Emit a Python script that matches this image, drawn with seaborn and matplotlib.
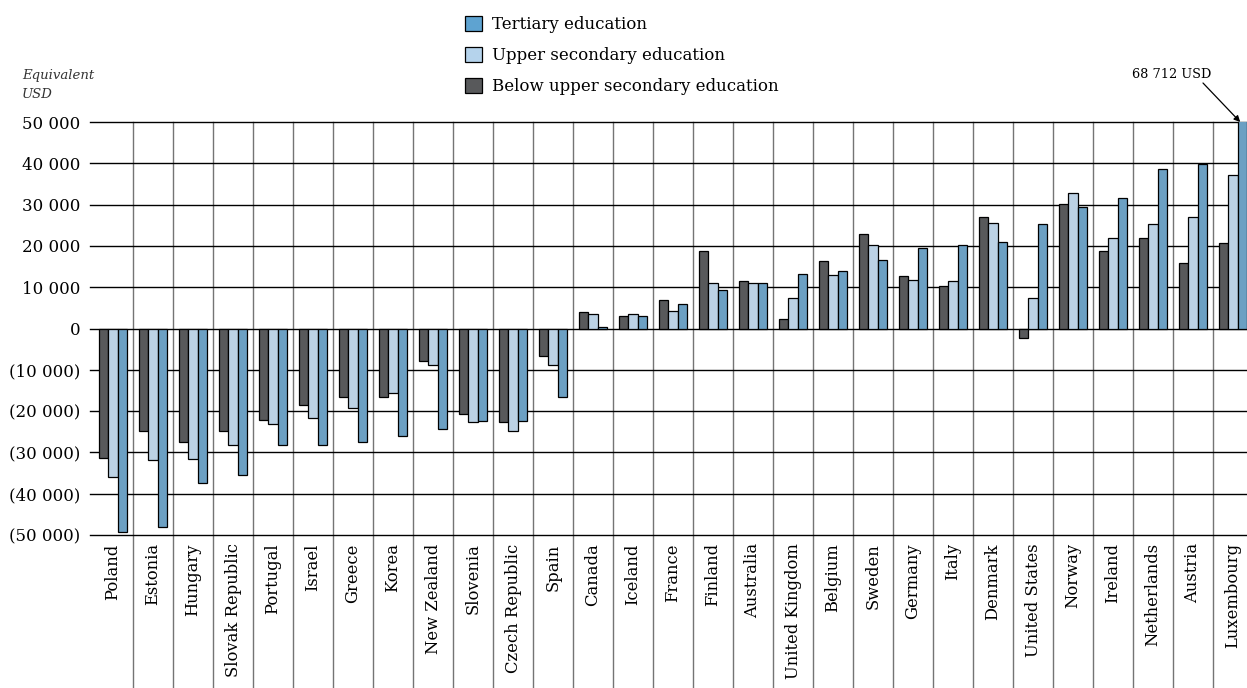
import numpy as np
import pandas as pd
import matplotlib
matplotlib.use("Agg")
import matplotlib.pyplot as plt
from matplotlib.patches import Patch
import seaborn as sns

#-----------------------------------------------------------------------------#
'''data'''
countries = ["Poland", "Estonia", "Hungary", "Slovak Republic", "Portugal", "Israel",
             "Greece", "Korea", "New Zealand", "Slovenia", "Czech Republic", "Spain",
             "Canada", "Iceland", "France", "Finland", "Australia", "United Kingdom",
             "Belgium", "Sweden", "Germany", "Italy", "Denmark", "United States",
             "Norway", "Ireland", "Netherlands", "Austria", "Luxembourg"]
below = [-31300, -24700, -27400, -24800, -22100, -18500, -16500, -16500, -7900, -20600,
         -22600, -6600, 4100, 3100, 6900, 18800, 11400, 2200, 16300, 22800, 12800, 10200,
         26900, -2200, 30200, 18800, 22000, 15900, 20600]
upper = [-35900, -31900, -31700, -28100, -23200, -21700, -19200, -15600, -8900, -22600,
         -24900, -8900, 3500, 3500, 4300, 11000, 11000, 7300, 12900, 20200, 11800, 11500,
         25600, 7300, 32700, 22000, 25300, 26900, 37200]
tertiary = [-49300, -48000, -37300, -35400, -28300, -28300, -27500, -26000, -24300, -22400,
            -22300, -16700, 300, 3100, 5900, 9400, 10900, 13200, 14000, 16700, 19500, 20200,
            21000, 25200, 29500, 31500, 38500, 39800, 68712]
levels = ["Below upper secondary education", "Upper secondary education", "Tertiary education"]
yticks = [50000, 40000, 30000, 20000, 10000, 0, -10000, -20000, -30000, -40000, -50000]
yticklabels = ["50 000", "40 000", "30 000", "20 000", "10 000", "0",
               "(10 000)", "(20 000)", "(30 000)", "(40 000)", "(50 000)"]

df = pd.DataFrame({
    "country": countries * 3,
    "value": below + upper + tertiary,
    "level": [levels[0]] * 29 + [levels[1]] * 29 + [levels[2]] * 29,
})

colors = ["#58595b", "#b5d3ec", "#5ea3d1"]
Font = "DejaVu Serif"
plt.rcParams["font.family"] = [Font, "DejaVu Sans"]

#-----------------------------------------------------------------------------#
'''plot'''
fig = plt.figure(figsize=(12.47, 6.88), dpi=100)
ax = fig.add_axes([90 / 1247, 1 - 535 / 688, (1253 - 90) / 1247, 413 / 688])

sns.barplot(data=df, x="country", y="value", hue="level", hue_order=levels,
            palette=colors, width=0.68, edgecolor="black", linewidth=0.9,
            order=countries, legend=False, ax=ax, zorder=3)

ax.set_xlim(-0.575, 28.5)
ax.set_ylim(-50000, 50000)
for s in ax.spines.values():
    s.set_visible(False)

# horizontal lines
for v in yticks:
    ax.axhline(v, color="black", lw=1.0, zorder=2, clip_on=False)
# vertical separators reaching into the label area
for k in range(28):
    ax.axvline(k + 0.5, ymin=-0.371, ymax=1, color="#747474", lw=1.0, zorder=1, clip_on=False)

ax.set_yticks(yticks)
ax.set_yticklabels(yticklabels, fontsize=12)
ax.tick_params(axis="y", length=0, pad=7)
ax.tick_params(axis="x", length=0, pad=6, labelrotation=90, labelsize=11.8)
ax.set_xlabel("")
ax.set_ylabel("")

fig.text(22 / 1247, 1 - 75 / 688, "Equivalent", fontsize=9.5, style="italic",
         color="#333333", va="center")
fig.text(22 / 1247, 1 - 95 / 688, "USD", fontsize=9.5, style="italic",
         color="#333333", va="center")

fig.text(1172 / 1247, 1 - 75 / 688, "68 712 USD", fontsize=9.3, ha="center", va="center")
ax.annotate("", xy=(28.18, 50000), xycoords="data",
            xytext=(1203 / 1247, 1 - 83 / 688), textcoords="figure fraction",
            arrowprops=dict(arrowstyle="-|>", color="black", lw=0.9,
                            shrinkA=0, shrinkB=0, mutation_scale=9))

handles = [Patch(facecolor=colors[i], edgecolor="black", linewidth=0.9, label=levels[i])
           for i in [2, 1, 0]]
fig.legend(handles=handles, loc="upper left", bbox_to_anchor=(465 / 1247, 1 - 16 / 688),
           frameon=False, fontsize=12, handlelength=1.0, handleheight=1.0,
           handletextpad=0.6, labelspacing=0.82, borderpad=0, borderaxespad=0)

fig.savefig("out.png", dpi=100)
